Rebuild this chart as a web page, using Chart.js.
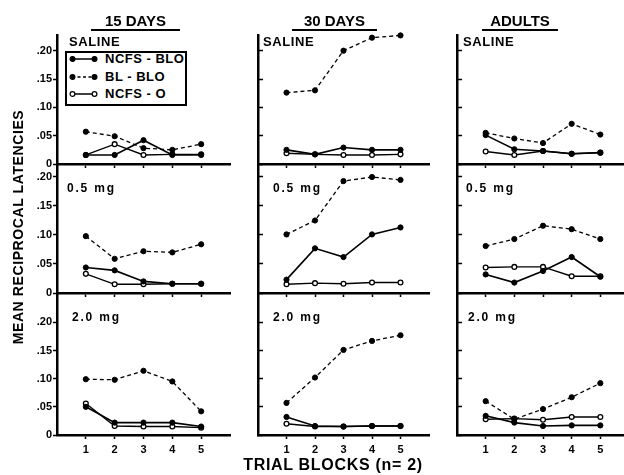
<!DOCTYPE html>
<html>
<head>
<meta charset="utf-8">
<script src="https://cdn.jsdelivr.net/npm/chart.js@4.4.0/dist/chart.umd.min.js"></script>
<style>
  html, body { margin: 0; padding: 0; background: #fff; overflow: hidden; }
  #fig { position: relative; width: 624px; height: 475px; overflow: hidden;
         font-family: "Liberation Sans", Arial, sans-serif; font-weight: bold; color: #000; }
  #fig canvas { position: absolute; }
  .txt { position: absolute; white-space: nowrap; }
  .head { font-size: 15px; line-height: 17px; text-align: center; border-bottom: 2px solid #000; }
  .saline { font-size: 13px; line-height: 15px; letter-spacing: 0.6px; }
  .dose { font-size: 12px; line-height: 14px; letter-spacing: 1.8px; }
  #legend { position: absolute; left: 65px; top: 51px; width: 122px; height: 55px;
            box-sizing: border-box; border: 2px solid #000; background: #fff; }
  #legend .row { position: absolute; left: 2px; height: 14px; }
  #legend svg { position: absolute; left: 0; top: 3px; }
  #legend span { position: absolute; left: 36px; top: 0; font-size: 13px; line-height: 14px; letter-spacing: 0.5px; white-space: nowrap; }
</style>
</head>
<body>
<div id="fig"></div>
<script>
const trialBlocks = [1, 2, 3, 4, 5]
const ageGroups = ['15 DAYS', '30 DAYS', 'ADULTS']
const treatments = ['SALINE', '0.5 mg', '2.0 mg']
const seriesNames = ['NCFS - BLO', 'BL - BLO', 'NCFS - O']
const yTicks = [0, 0.05, 0.10, 0.15, 0.20]

// each panel: [NCFS-BLO, BL-BLO, NCFS-O]
const days15Saline = [
  [0.016, 0.016, 0.042, 0.016, 0.016],
  [0.057, 0.049, 0.028, 0.025, 0.035],
  [0.016, 0.035, 0.016, 0.017, 0.017]
]
const days15Dose05 = [
  [0.044, 0.039, 0.020, 0.016, 0.016],
  [0.098, 0.059, 0.072, 0.070, 0.084],
  [0.033, 0.015, 0.015, 0.016, 0.016]
]
const days15Dose20 = [
  [0.050, 0.022, 0.022, 0.022, 0.015],
  [0.099, 0.098, 0.114, 0.095, 0.042],
  [0.056, 0.016, 0.015, 0.015, 0.013]
]
const days30Saline = [
  [0.025, 0.017, 0.029, 0.025, 0.025],
  [0.126, 0.130, 0.200, 0.223, 0.227],
  [0.019, 0.017, 0.016, 0.016, 0.017]
]
const days30Dose05 = [
  [0.023, 0.077, 0.062, 0.101, 0.113],
  [0.101, 0.125, 0.193, 0.200, 0.195],
  [0.015, 0.017, 0.016, 0.018, 0.018]
]
const days30Dose20 = [
  [0.032, 0.016, 0.015, 0.016, 0.016],
  [0.057, 0.102, 0.151, 0.167, 0.177],
  [0.020, 0.015, 0.015, 0.016, 0.016]
]
const adultsSaline = [
  [0.051, 0.026, 0.023, 0.018, 0.020],
  [0.055, 0.045, 0.037, 0.071, 0.052],
  [0.022, 0.016, 0.023, 0.018, 0.020]
]
const adultsDose05 = [
  [0.032, 0.018, 0.038, 0.062, 0.028],
  [0.081, 0.093, 0.116, 0.110, 0.093],
  [0.044, 0.045, 0.045, 0.029, 0.029]
]
const adultsDose20 = [
  [0.034, 0.022, 0.016, 0.017, 0.017],
  [0.060, 0.028, 0.046, 0.067, 0.092],
  [0.028, 0.029, 0.027, 0.032, 0.032]
]

const panels = [
  [days15Saline, days15Dose05, days15Dose20],
  [days30Saline, days30Dose05, days30Dose20],
  [adultsSaline, adultsDose05, adultsDose20]
]

// layout of the plot areas (px)
const colLeft = [57, 258, 457]
const colWidth = [173, 171, 172]
const rowTop = [35, 164, 293]
const rowBottom = [164, 293, 435]
const rowMax = [0.2277, 0.2224, 0.252]
const axisW = 34, padTop = 8, padRight = 6, xAxisH = 28

const fig = document.getElementById('fig')
const tickFont = { family: '"Liberation Sans", Arial, sans-serif', weight: 'bold', size: 11 }

function seriesStyle(s) {
  if (s == 0) return { borderWidth: 1.6, pointBackgroundColor: '#000', pointRadius: 2.6, pointBorderWidth: 1 }
  if (s == 1) return { borderWidth: 1.3, borderDash: [4, 3], pointBackgroundColor: '#000', pointRadius: 2.6, pointBorderWidth: 1 }
  return { borderWidth: 1.4, pointBackgroundColor: '#fff', pointRadius: 2.4, pointBorderWidth: 1.3 }
}

for (let c = 0; c < 3; c++) {
  for (let r = 0; r < 3; r++) {
    const h = rowBottom[r] - rowTop[r]
    const cv = document.createElement('canvas')
    cv.width = axisW + colWidth[c] + padRight
    cv.height = padTop + h + xAxisH
    cv.style.left = (colLeft[c] - axisW) + 'px'
    cv.style.top = (rowTop[r] - padTop) + 'px'
    fig.appendChild(cv)

    const datasets = panels[c][r].map((vals, s) => Object.assign({
      label: seriesNames[s],
      data: trialBlocks.map((b, i) => ({ x: b, y: vals[i] })),
      borderColor: '#000',
      pointBorderColor: '#000',
      tension: 0,
      clip: false
    }, seriesStyle(s)))

    new Chart(cv, {
      type: 'line',
      data: { datasets: datasets },
      options: {
        responsive: false,
        animation: false,
        devicePixelRatio: 1,
        layout: { autoPadding: false, padding: { top: padTop, right: padRight, left: 0, bottom: 0 } },
        plugins: { legend: { display: false }, tooltip: { enabled: false } },
        scales: {
          x: {
            type: 'linear', min: 0, max: 6,
            afterBuildTicks: (s) => { s.ticks = trialBlocks.map(v => ({ value: v })) },
            afterFit: (s) => { s.height = xAxisH },
            grid: { drawOnChartArea: false, drawTicks: true, tickLength: 4, tickWidth: 1.5, tickColor: '#000', color: '#000' },
            border: { display: true, color: '#000', width: 2.5 },
            ticks: { display: r == 2, color: '#000', font: tickFont, padding: 4, autoSkip: false, maxRotation: 0 }
          },
          y: {
            min: 0, max: rowMax[r],
            afterBuildTicks: (s) => { s.ticks = yTicks.map(v => ({ value: v })) },
            afterFit: (s) => { s.width = axisW },
            grid: { drawOnChartArea: false, drawTicks: true, tickLength: c == 0 ? 4 : -5, tickWidth: 1.5, tickColor: '#000', color: '#000' },
            border: { display: true, color: '#000', width: 2.5 },
            ticks: {
              display: c == 0, color: '#000', font: tickFont, padding: 1,
              callback: (v) => v == 0 ? '0' : '.' + String(Math.round(v * 100)).padStart(2, '0')
            }
          }
        }
      }
    })
  }
}

// text: column heads, panel labels, axis titles
function addText(cls, text, css) {
  const d = document.createElement('div')
  d.className = 'txt ' + cls
  d.textContent = text
  Object.assign(d.style, css)
  fig.appendChild(d)
  return d
}

const headLeft = [91, 292, 482], headWidth = [89, 85, 76]
ageGroups.forEach((g, c) => addText('head', g, { left: headLeft[c] + 'px', top: '12px', width: headWidth[c] + 'px' }))

const salineLeft = [69, 263, 463]
const dose05Left = [67, 273, 466]
const dose20Left = [72, 273, 468]
for (let c = 0; c < 3; c++) {
  addText('saline', treatments[0], { left: salineLeft[c] + 'px', top: '34px' })
  addText('dose', treatments[1], { left: dose05Left[c] + 'px', top: '181px' })
  addText('dose', treatments[2], { left: dose20Left[c] + 'px', top: '310px' })
}

addText('', 'TRIAL BLOCKS (n= 2)', { left: '183px', top: '456px', width: '300px', textAlign: 'center',
  fontSize: '16px', lineHeight: '18px', letterSpacing: '0.7px' })

addText('', 'MEAN RECIPROCAL LATENCIES', { left: '-112px', top: '219px', width: '260px', textAlign: 'center',
  fontSize: '14px', lineHeight: '16px', letterSpacing: '0.6px', transform: 'rotate(-90deg)' })

// legend box inside the first panel
const legend = document.createElement('div')
legend.id = 'legend'
const rowCenters = [6, 24, 41]
seriesNames.forEach((name, s) => {
  const row = document.createElement('div')
  row.className = 'row'
  row.style.top = (rowCenters[s] - 7) + 'px'
  const fill = s == 2 ? '#fff' : '#000'
  const dash = s == 1 ? ' stroke-dasharray="3 2.5"' : ''
  row.innerHTML = '<svg width="30" height="8">' +
    '<line x1="3" y1="4" x2="26" y2="4" stroke="#000" stroke-width="1.5"' + dash + '/>' +
    '<circle cx="3.5" cy="4" r="2.4" fill="' + fill + '" stroke="#000" stroke-width="1.2"/>' +
    '<circle cx="25.5" cy="4" r="2.4" fill="' + fill + '" stroke="#000" stroke-width="1.2"/>' +
    '</svg><span>' + name + '</span>'
  legend.appendChild(row)
})
fig.appendChild(legend)
</script>
</body>
</html>
